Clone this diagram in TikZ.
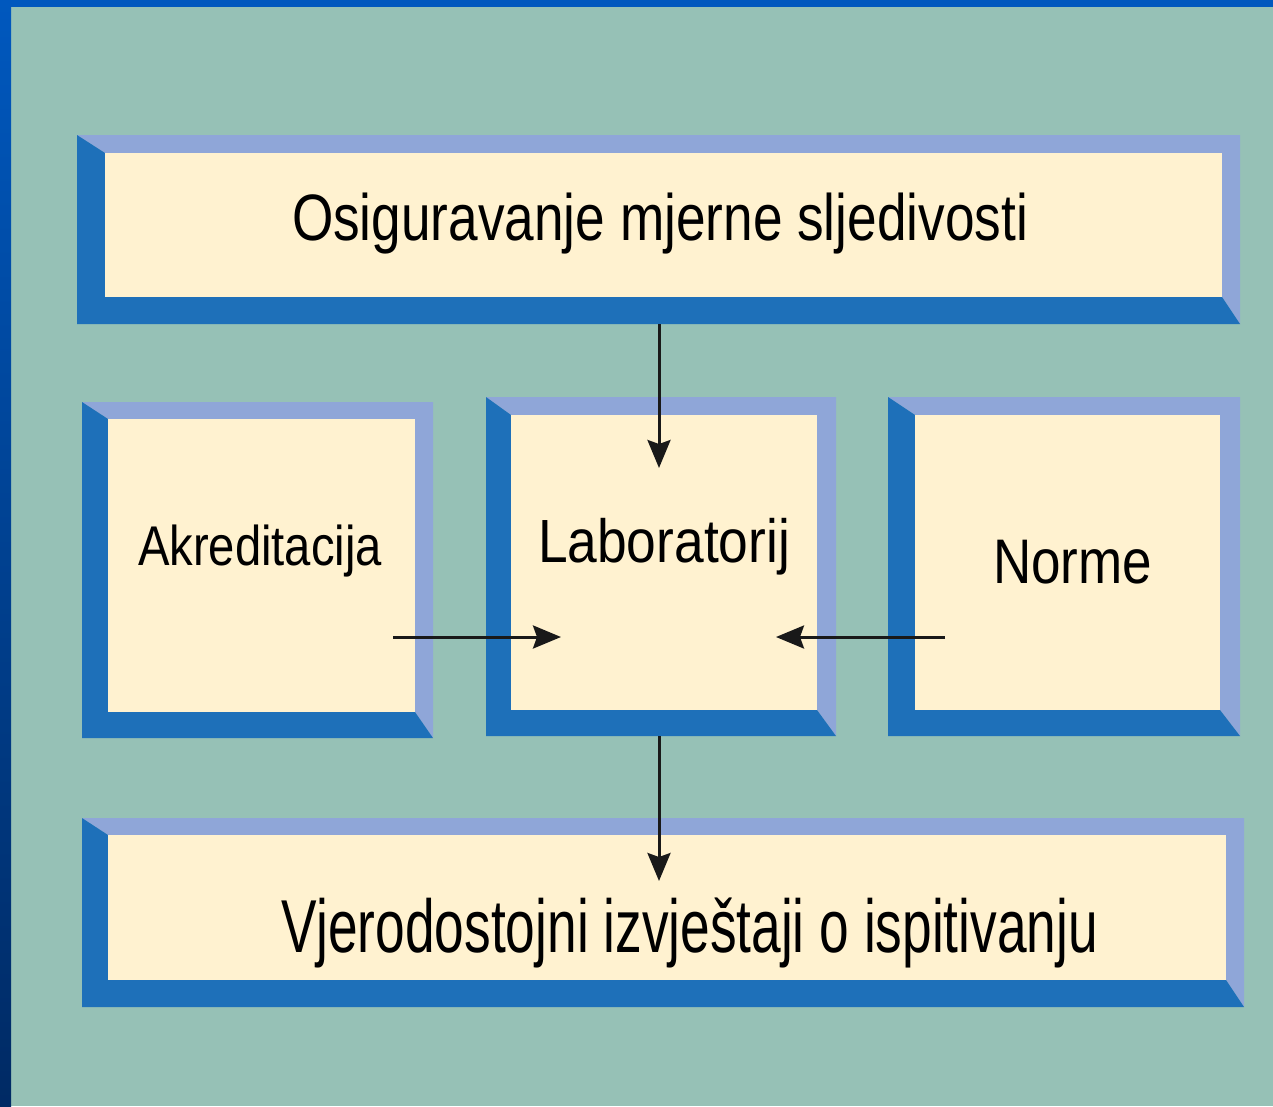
\documentclass[tikz,border=0pt]{standalone}
\usepackage{fontspec}
\setmainfont{Liberation Sans}
\usetikzlibrary{arrows.meta}
\definecolor{bgteal}{RGB}{150,193,182}
\definecolor{stripblue}{RGB}{0,88,190}
\definecolor{stripnavy}{RGB}{0,42,100}
\definecolor{darkfr}{RGB}{30,112,185}
\definecolor{lightfr}{RGB}{143,166,216}
\definecolor{cream}{RGB}{255,242,208}
\newcommand\bevbox[9]{%
  \fill[lightfr] (#2,#3) -- (#4,#3) -- (#4,#5) -- (#8,#9) -- (#8,#7) -- (#6,#7) -- cycle;
  \fill[darkfr] (#2,#3) -- (#6,#7) -- (#6,#9) -- (#8,#9) -- (#4,#5) -- (#2,#5) -- cycle;
  \node[innerbox, anchor=north west, minimum width={(#8-#6)*1pt}, minimum height={(#9-#7)*1pt}] (#1) at (#6,#7) {};
}
\newcommand\lbltext[3]{\resizebox{#1pt}{\height}{\fontsize{#2}{#2}\selectfont #3}}
\begin{document}
\begin{tikzpicture}[x=1pt,y=-1pt,
  innerbox/.style={fill=cream, draw=none, inner sep=0pt, outer sep=0pt},
  lbl/.style={inner sep=0pt, outer sep=0pt, anchor=base west, text=black},
  arr/.style={line width=3pt, draw=black!90, -{Stealth[length=28pt,width=23pt,inset=4pt]}}]
\useasboundingbox (0,0) rectangle (1273,1106);
\fill[bgteal] (0,0) rectangle (1273,1106);
\shade[top color=stripblue, bottom color=stripnavy] (0,0) rectangle (11,1106);
\fill[stripblue] (0,0) rectangle (1273,7);
% boxes
\bevbox{top}{77}{135}{1240}{324}{105}{153}{1222}{297}
\bevbox{akr}{82}{402}{433}{738}{108}{419}{415}{712}
\bevbox{lab}{486}{397}{836}{736}{511}{415}{817}{710}
\bevbox{nor}{888}{397}{1240}{736}{915}{415}{1220}{710}
\bevbox{bot}{82}{818}{1244}{1007}{108}{835}{1226}{980}
% labels
\node[lbl] (ttop) at (292,240) {\lbltext{736}{65.6}{Osiguravanje mjerne sljedivosti}};
\node[lbl] (takr) at (138,565) {\lbltext{244}{56}{Akreditacija}};
\node[lbl] (tlab) at (538,562) {\lbltext{252}{61}{Laboratorij}};
\node[lbl] (tnor) at (993,583) {\lbltext{159}{63}{Norme}};
\node[lbl] (tbot) at (281,952) {\lbltext{817}{75}{Vjerodostojni izvještaji o ispitivanju}};
% connector ends
\coordinate (c1s) at (659,324);
\coordinate (c1e) at (659,468);
\coordinate (c2s) at (393,637);
\coordinate (c2e) at (561,637);
\coordinate (c3s) at (945,637);
\coordinate (c3e) at (776,637);
\coordinate (c4s) at (659,736);
\coordinate (c4e) at (659,881);
\draw[arr] (c1s) -- (c1e);
\draw[arr] (c2s) -- (c2e);
\draw[arr] (c3s) -- (c3e);
\draw[arr] (c4s) -- (c4e);
\end{tikzpicture}
\end{document}
